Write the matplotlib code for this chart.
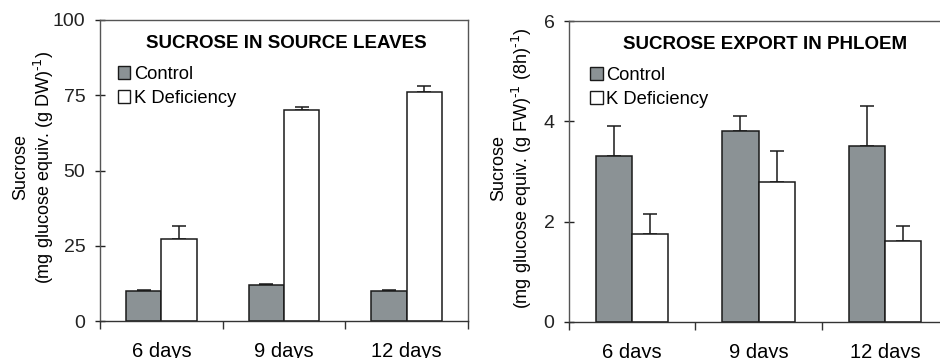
import numpy as np
import matplotlib.pyplot as plt
from matplotlib.patches import Patch

plt.rcParams['font.family'] = ['Liberation Sans', 'DejaVu Sans']

days = ['6 days', '9 days', '12 days']
series = ['Control', 'K Deficiency']

# source leaves, mg glucose equiv. (g DW)^-1
leaf_ctrl = [10.0, 12.1, 10.0]
leaf_ctrl_err = [0.2, 0.2, 0.4]
leaf_kdef = [27.1, 70.0, 76.0]
leaf_kdef_err = [4.3, 1.1, 2.0]

# phloem export, mg glucose equiv. (g FW)^-1 (8h)^-1
phl_ctrl = [3.31, 3.80, 3.51]
phl_ctrl_err = [0.59, 0.31, 0.80]
phl_kdef = [1.75, 2.80, 1.61]
phl_kdef_err = [0.41, 0.60, 0.30]

gray = '#8b9295'
edge = '#1a1a1a'

fig = plt.figure(figsize=(9.4, 3.58), dpi=100)
ax1 = fig.add_axes([100/940, 37/358, 368/940, 301/358])
ax2 = fig.add_axes([569/940, 36/358, 379/940, 301/358])

sup = r'$^{\text{-1}}$'


def draw(ax, ctrl, ctrl_err, kdef, kdef_err, ymax, yticks, title, ylabel, title_x, leg_x, lab_x):
    x = np.arange(len(days))
    w = 0.287
    ax.bar(x - w/2, ctrl, w, color=gray, edgecolor=edge, linewidth=1.1, zorder=2)
    ax.bar(x + w/2, kdef, w, color='white', edgecolor=edge, linewidth=1.1, zorder=2)
    ax.errorbar(x - w/2, ctrl, yerr=[np.zeros(3), ctrl_err], fmt='none',
                ecolor=edge, elinewidth=1.1, capsize=5, capthick=1.1, zorder=1)
    ax.errorbar(x + w/2, kdef, yerr=[np.zeros(3), kdef_err], fmt='none',
                ecolor=edge, elinewidth=1.1, capsize=5, capthick=1.1, zorder=1)
    ax.set_xlim(-0.5, len(days) - 0.5)
    ax.set_ylim(0, ymax)
    ax.set_yticks(yticks)
    ax.tick_params(axis='y', direction='inout', length=7, width=1,
                   labelsize=14, pad=7, colors='#222222')
    ax.set_xticks(np.arange(len(days) + 1) - 0.5)
    ax.set_xticklabels([])
    ax.set_xticks(x, minor=True)
    ax.set_xticklabels(days, minor=True)
    ax.tick_params(axis='x', which='major', direction='out', length=6, width=1, color='#333333')
    ax.tick_params(axis='x', which='minor', length=0, labelsize=14.5, pad=15)
    for s in ax.spines.values():
        s.set_color('#555555')
        s.set_linewidth(1.0)
    ax.spines['bottom'].set_color('#333333')
    ax.set_ylabel(ylabel, fontsize=13, linespacing=1.15, va='center')
    ax.yaxis.set_label_coords(lab_x, 0.51)
    ax.text(title_x, 0.922, title, transform=ax.transAxes, ha='center', va='center',
            fontsize=13.5, fontweight='bold')
    handles = [Patch(facecolor=gray, edgecolor=edge, linewidth=1.0),
               Patch(facecolor='white', edgecolor=edge, linewidth=1.0)]
    ax.legend(handles, series, loc='upper left', bbox_to_anchor=(leg_x, 0.872),
              frameon=False, fontsize=13.2, handlelength=0.7, handleheight=0.7,
              handletextpad=0.2, labelspacing=0.4, borderaxespad=0)


draw(ax1, leaf_ctrl, leaf_ctrl_err, leaf_kdef, leaf_kdef_err, 100, [0, 25, 50, 75, 100],
     'SUCROSE IN SOURCE LEAVES', 'Sucrose\n(mg glucose equiv. (g DW)' + sup + ')',
     0.505, 0.028, -0.179)
draw(ax2, phl_ctrl, phl_ctrl_err, phl_kdef, phl_kdef_err, 6, [0, 2, 4, 6],
     'SUCROSE EXPORT IN PHLOEM', 'Sucrose\n(mg glucose equiv. (g FW)' + sup + ' (8h)' + sup + ')',
     0.517, 0.036, -0.149)

fig.savefig('out.png', dpi=100)
